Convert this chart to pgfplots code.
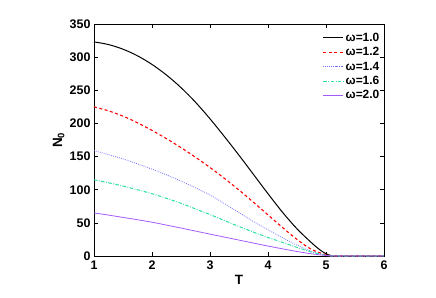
\documentclass[border=0pt]{standalone}
\usepackage{pgfplots}
\pgfplotsset{compat=1.18}
\usepackage{fontspec}
\setmainfont{Liberation Sans}
\definecolor{cblue}{RGB}{110,110,255}
\definecolor{cgreen}{RGB}{40,225,160}
\definecolor{cpurple}{RGB}{165,90,250}
\begin{document}
\begin{tikzpicture}
\path[use as bounding box] (-94bp,-42bp) rectangle (342bp,256bp);
\begin{axis}[
  scale only axis,
  width=290bp, height=232bp,
  xmin=1, xmax=6, ymin=0, ymax=350,
  xtick={1,2,3,4,5,6}, ytick={0,50,...,350},
  tick align=inside,
  major tick length=4bp,
  axis line style={line width=0.9pt},
  every tick/.style={black, line width=0.6pt},
  /pgf/number format/assume math mode=true,
  xticklabel={\bfseries\pgfmathprintnumber{\tick}},
  yticklabel={\bfseries\pgfmathprintnumber{\tick}},
  ticklabel style={font=\bfseries\fontsize{12.5}{12.5}\selectfont},
  xticklabel style={yshift=-1bp},
  xlabel={\bfseries T},
  ylabel={\bfseries N\textsubscript{0}},
  label style={font=\bfseries\fontsize{13.5}{13.5}\selectfont},
  xlabel style={at={(axis description cs:0.5,0)}, anchor=north, yshift=-16bp},
  ylabel style={at={(axis description cs:0,0.5)}, anchor=south, yshift=26bp},
  legend style={draw=none, fill=none, at={(0.995,0.975)}, anchor=north east,
    font=\bfseries\fontsize{12}{12}\selectfont, row sep=0.6bp, inner sep=1bp},
  legend cell align=left,
  legend image code/.code={\draw[#1] plot coordinates {(0cm,0cm) (0.35cm,0cm) (0.7cm,0cm)};},
]
\addplot[black, line width=1pt, smooth, tension=0.55] coordinates {
(1,323) (1.25,319) (1.5,312) (1.75,302) (2,289) (2.25,273) (2.5,254) (2.75,232)
(3,207) (3.25,180) (3.5,152) (3.75,123) (4,94) (4.25,66) (4.5,41) (4.75,20)
(4.9,9) (5,3.5) (5.1,0.3) (5.2,0) (6,0)};
\addlegendentry{ω=1.0}
\addplot[red, line width=1.1pt, dash pattern=on 3bp off 2.5bp, smooth, tension=0.55] coordinates {
(1,225) (1.25,219) (1.5,211) (1.75,201) (2,189.5) (2.25,177) (2.5,163.5) (2.75,149)
(3,133.5) (3.25,117) (3.5,99.5) (3.75,81) (4,62) (4.25,43) (4.5,25) (4.75,10)
(5,2) (5.1,0.2) (5.2,0) (6,0)};
\addlegendentry{ω=1.2}
\addplot[cblue, line width=0.8pt, dash pattern=on 0.8bp off 1.2bp, smooth, tension=0.55] coordinates {
(1,159) (1.25,153) (1.5,146.5) (1.75,139) (2,131) (2.25,122.5) (2.5,113) (2.75,103)
(3,92) (3.25,79) (3.5,65.5) (3.75,52) (4,39.5) (4.25,27.5) (4.5,16.5) (4.75,7)
(5,1) (5.1,0.1) (5.2,0) (6,0)};
\addlegendentry{ω=1.4}
\addplot[cgreen, line width=1pt, dash pattern=on 3.5bp off 1.5bp on 0.8bp off 1.5bp, smooth, tension=0.55] coordinates {
(1,115) (1.25,110.5) (1.5,105.5) (1.75,100) (2,94) (2.25,87) (2.5,79.5) (2.75,71)
(3,62.5) (3.25,53.5) (3.5,44.5) (3.75,36) (4,28) (4.25,20.5) (4.5,13) (4.75,6)
(5,1) (5.1,0.1) (5.2,0) (6,0)};
\addlegendentry{ω=1.6}
\addplot[cpurple, line width=0.8pt, smooth, tension=0.55] coordinates {
(1,65) (1.25,61.7) (1.5,58.2) (1.75,54.7) (2,51) (2.25,46.6) (2.5,42.2) (2.75,37.6)
(3,33) (3.25,28.5) (3.5,24) (3.75,19.5) (4,15) (4.25,10.8) (4.5,6.8) (4.75,3.3)
(5,0.8) (5.1,0.1) (5.2,0) (6,0)};
\addlegendentry{ω=2.0}
\end{axis}
\end{tikzpicture}
\end{document}
